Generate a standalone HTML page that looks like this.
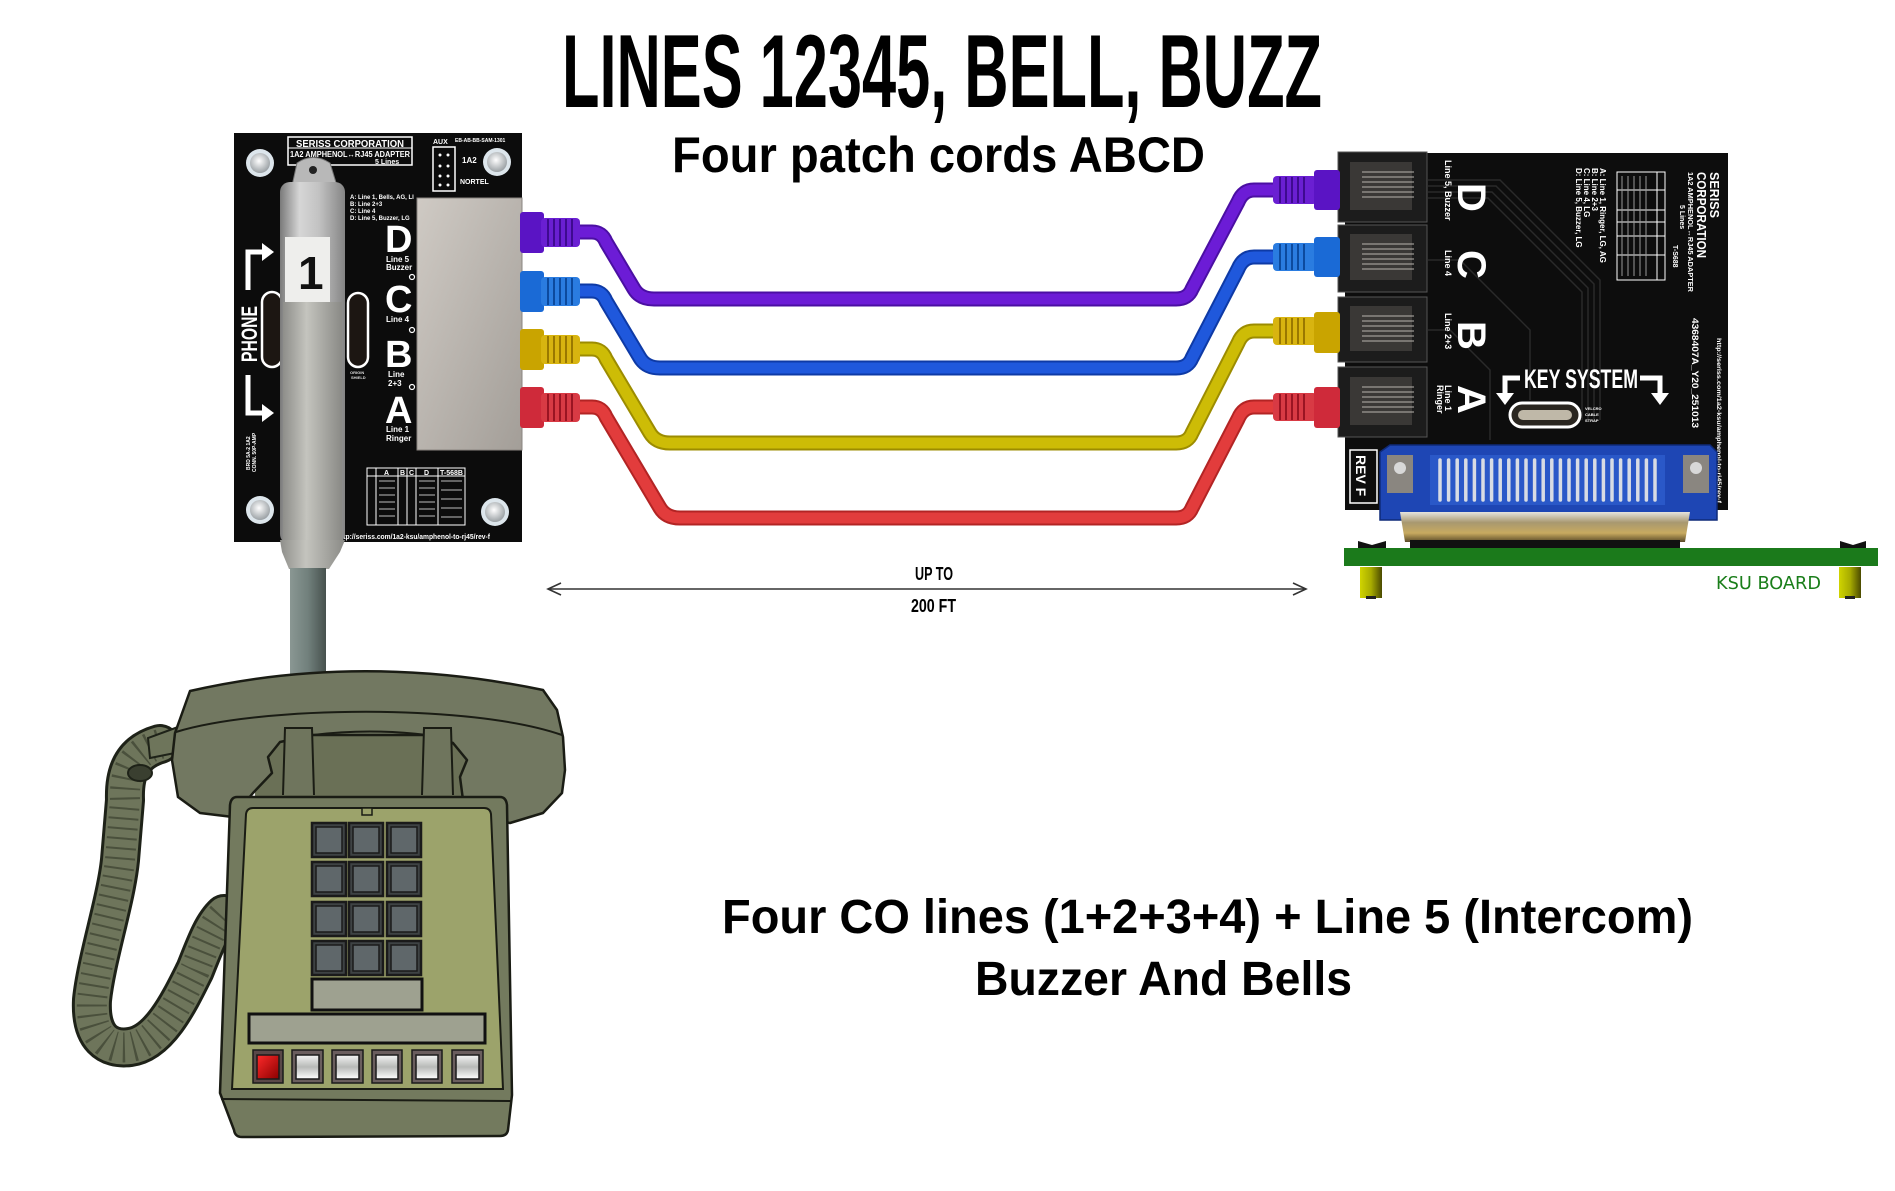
<!DOCTYPE html>
<html><head><meta charset="utf-8">
<style>
html,body{margin:0;padding:0;background:#fff;}
svg{display:block;}
.nb{font-family:"Liberation Sans Narrow","Liberation Sans",sans-serif;font-weight:bold;}
.sb{font-family:"Liberation Sans",sans-serif;font-weight:bold;}
</style></head>
<body>
<svg width="1895" height="1191" viewBox="0 0 1895 1191" xmlns="http://www.w3.org/2000/svg">
<defs>
  <linearGradient id="plug" x1="0" x2="1" y1="0" y2="0">
    <stop offset="0" stop-color="#7a7a7a"/><stop offset="0.3" stop-color="#d6d6d6"/>
    <stop offset="0.6" stop-color="#c2c2c2"/><stop offset="1" stop-color="#858585"/>
  </linearGradient>
  <linearGradient id="plugLow" x1="0" x2="1" y1="0" y2="0">
    <stop offset="0" stop-color="#8e8e8a"/><stop offset="0.4" stop-color="#c4c4be"/>
    <stop offset="1" stop-color="#8a8a86"/>
  </linearGradient>
  <linearGradient id="rj" x1="0" x2="1" y1="0" y2="1">
    <stop offset="0" stop-color="#cfcac4"/><stop offset="1" stop-color="#a39e98"/>
  </linearGradient>
  <linearGradient id="stem" x1="0" x2="1" y1="0" y2="0">
    <stop offset="0" stop-color="#8a9793"/><stop offset="0.5" stop-color="#71807c"/>
    <stop offset="1" stop-color="#47514e"/>
  </linearGradient>
  <linearGradient id="post" x1="0" x2="1" y1="0" y2="0">
    <stop offset="0" stop-color="#d0d400"/><stop offset="0.5" stop-color="#a8ac00"/>
    <stop offset="1" stop-color="#4a4a00"/>
  </linearGradient>
  <linearGradient id="shell" x1="0" x2="0" y1="0" y2="1">
    <stop offset="0" stop-color="#e6e4de"/><stop offset="0.35" stop-color="#a89870"/>
    <stop offset="0.7" stop-color="#c8aa60"/><stop offset="1" stop-color="#5a4a28"/>
  </linearGradient>
  <linearGradient id="btn" x1="0" x2="0" y1="0" y2="1">
    <stop offset="0" stop-color="#f4f4f4"/><stop offset="0.5" stop-color="#b8bab8"/>
    <stop offset="1" stop-color="#ffffff"/>
  </linearGradient>
  <linearGradient id="btnr" x1="0" x2="1" y1="0" y2="1">
    <stop offset="0" stop-color="#ff2a2a"/><stop offset="1" stop-color="#8a0000"/>
  </linearGradient>
  <radialGradient id="hole" cx="0.45" cy="0.4" r="0.6">
    <stop offset="0" stop-color="#ffffff"/><stop offset="1" stop-color="#9aa0a4"/>
  </radialGradient>
</defs>

<rect width="1895" height="1191" fill="#fff"/>

<!-- TITLE -->
<text class="nb" x="562" y="107" font-size="104" textLength="760" lengthAdjust="spacingAndGlyphs" fill="#000">LINES 12345, BELL, BUZZ</text>
<text class="sb" x="672" y="172" font-size="50" textLength="533" lengthAdjust="spacingAndGlyphs" fill="#000">Four patch cords ABCD</text>

<!-- ============ LEFT BOARD ============ -->
<rect x="234" y="133" width="288" height="409" fill="#0c0c0c"/>
<g>
  <circle cx="260" cy="163" r="14" fill="#dde6ec"/><circle cx="260" cy="163" r="10" fill="url(#hole)"/>
  <circle cx="497" cy="162" r="14" fill="#dde6ec"/><circle cx="497" cy="162" r="10" fill="url(#hole)"/>
  <circle cx="260" cy="510" r="14" fill="#dde6ec"/><circle cx="260" cy="510" r="10" fill="url(#hole)"/>
  <circle cx="495" cy="512" r="14" fill="#dde6ec"/><circle cx="495" cy="512" r="10" fill="url(#hole)"/>
</g>
<rect x="288" y="137" width="124" height="28" fill="none" stroke="#fff" stroke-width="1.5"/>
<line x1="288" y1="148" x2="412" y2="148" stroke="#fff" stroke-width="1"/>
<text class="nb" x="296" y="147" font-size="10" textLength="108" lengthAdjust="spacingAndGlyphs" fill="#fff">SERISS CORPORATION</text>
<text class="nb" x="290" y="157" font-size="8" textLength="120" lengthAdjust="spacingAndGlyphs" fill="#fff">1A2 AMPHENOL↔RJ45 ADAPTER</text>
<text class="nb" x="375" y="164" font-size="7" fill="#fff">5 Lines</text>
<rect x="433" y="147" width="22" height="44" fill="none" stroke="#fff" stroke-width="1.5"/>
<g fill="#fff"><circle cx="440" cy="155" r="1.5"/><circle cx="448" cy="155" r="1.5"/><circle cx="440" cy="166" r="1.5"/><circle cx="448" cy="166" r="1.5"/><circle cx="440" cy="176" r="1.5"/><circle cx="448" cy="176" r="1.5"/><circle cx="440" cy="185" r="1.5"/><circle cx="448" cy="185" r="1.5"/></g>
<text class="nb" x="433" y="144" font-size="7" fill="#fff">AUX</text>
<text class="nb" x="462" y="163" font-size="8" fill="#fff">1A2</text>
<text class="nb" x="460" y="184" font-size="7" fill="#fff">NORTEL</text>
<text class="nb" x="455" y="142" font-size="5" fill="#fff">EB-AB-BB-SAM-1301</text>
<g class="nb" font-size="6" fill="#fff">
  <text x="350" y="199">A: Line 1, Bells, AG, LI</text>
  <text x="350" y="206">B: Line 2+3</text>
  <text x="350" y="213">C: Line 4</text>
  <text x="350" y="220">D: Line 5, Buzzer, LG</text>
</g>
<g class="nb" fill="#fff">
  <text x="385" y="252" font-size="38">D</text>
  <text x="386" y="262" font-size="8">Line 5</text>
  <text x="386" y="270" font-size="8">Buzzer</text>
  <text x="385" y="312" font-size="38">C</text>
  <text x="386" y="322" font-size="8">Line 4</text>
  <text x="385" y="367" font-size="38">B</text>
  <text x="388" y="377" font-size="8">Line</text>
  <text x="388" y="386" font-size="8">2+3</text>
  <text x="385" y="423" font-size="38">A</text>
  <text x="386" y="432" font-size="8">Line 1</text>
  <text x="386" y="441" font-size="8">Ringer</text>
</g>
<rect x="262" y="292" width="20" height="75" rx="10" fill="#1c1612" stroke="#fff" stroke-width="2.5"/>
<rect x="348" y="293" width="20" height="74" rx="10" fill="#1c1612" stroke="#fff" stroke-width="2.5"/>
<g class="nb" font-size="4" fill="#ddd"><text x="350" y="374">ORIGIN</text><text x="351" y="379">SHIELD</text></g>
<text class="nb" transform="translate(257,362) rotate(-90)" font-size="22" textLength="56" lengthAdjust="spacingAndGlyphs" fill="#fff">PHONE</text>
<path d="M248,290 L248,252 L263,252" fill="none" stroke="#fff" stroke-width="5"/>
<polygon points="262,243 274,252 262,261" fill="#fff"/>
<path d="M248,375 L248,413 L263,413" fill="none" stroke="#fff" stroke-width="5"/>
<polygon points="262,404 274,413 262,422" fill="#fff"/>
<g class="nb" font-size="5" fill="#fff">
  <text transform="translate(250,470) rotate(-90)">BRD 5A-2 1A2</text>
  <text transform="translate(256,472) rotate(-90)">CONN. 50P-AMP</text>
</g>
<rect x="417" y="198" width="105" height="252" fill="url(#rj)"/>
<rect x="417" y="198" width="105" height="252" fill="none" stroke="#8a8580" stroke-width="1"/>
<g fill="none" stroke="#fff" stroke-width="1.2"><circle cx="412" cy="277" r="2.5"/><circle cx="412" cy="330" r="2.5"/><circle cx="412" cy="387" r="2.5"/></g>
<g stroke="#fff" fill="none" stroke-width="1">
  <rect x="367" y="468" width="98" height="57"/>
  <line x1="367" y1="476" x2="465" y2="476"/>
  <line x1="376" y1="468" x2="376" y2="525"/>
  <line x1="398" y1="468" x2="398" y2="525"/>
  <line x1="407" y1="468" x2="407" y2="525"/>
  <line x1="416" y1="468" x2="416" y2="525"/>
  <line x1="438" y1="468" x2="438" y2="525"/>
</g>
<g class="nb" font-size="7" fill="#fff"><text x="384" y="475">A</text><text x="400" y="475">B</text><text x="409" y="475">C</text><text x="424" y="475">D</text><text x="440" y="475">T-568B</text></g>
<g stroke="#bbb" stroke-width="1">
  <line x1="379" y1="481" x2="395" y2="481"/><line x1="379" y1="488" x2="395" y2="488"/><line x1="379" y1="495" x2="395" y2="495"/><line x1="379" y1="502" x2="395" y2="502"/><line x1="379" y1="509" x2="395" y2="509"/><line x1="379" y1="516" x2="395" y2="516"/>
  <line x1="419" y1="481" x2="435" y2="481"/><line x1="419" y1="488" x2="435" y2="488"/><line x1="419" y1="495" x2="435" y2="495"/><line x1="419" y1="502" x2="435" y2="502"/><line x1="419" y1="509" x2="435" y2="509"/><line x1="419" y1="516" x2="435" y2="516"/>
  <line x1="441" y1="481" x2="462" y2="481"/><line x1="441" y1="490" x2="462" y2="490"/><line x1="441" y1="499" x2="462" y2="499"/><line x1="441" y1="508" x2="462" y2="508"/><line x1="441" y1="517" x2="462" y2="517"/>
</g>
<text class="nb" x="337" y="539" font-size="7" textLength="153" lengthAdjust="spacingAndGlyphs" fill="#fff">http://seriss.com/1a2-ksu/amphenol-to-rj45/rev-f</text>

<!-- plug (silver) -->
<path d="M292,186 L297,163 Q313,152 330,163 L337,186 Z" fill="#b8b8b8" stroke="#777" stroke-width="1"/>
<circle cx="313" cy="170" r="4" fill="#222"/>
<rect x="280" y="182" width="65" height="362" rx="10" fill="url(#plug)"/>
<rect x="283" y="302" width="59" height="240" fill="url(#plugLow)"/>
<rect x="285" y="237" width="45" height="65" fill="#eeeeec"/>
<text class="nb" x="298" y="289" font-size="46" fill="#111">1</text>
<path d="M280,540 L345,540 L340,552 L329,569 L289,569 L282,552 Z" fill="url(#plugLow)"/>
<rect x="290" y="568" width="36" height="108" fill="url(#stem)"/>

<!-- ============ CABLES ============ -->
<g fill="none" stroke-linecap="round" stroke-linejoin="round">
  <path d="M578,232 L592,232 Q602,232 606,242 L634,289 Q640,299 654,299 L1176,299 Q1188,299 1192,289 L1238,202 Q1243,190 1254,190 L1278,190" stroke="#4b0fa3" stroke-width="15"/>
  <path d="M578,232 L592,232 Q602,232 606,242 L634,289 Q640,299 654,299 L1176,299 Q1188,299 1192,289 L1238,202 Q1243,190 1254,190 L1278,190" stroke="#6c1cd6" stroke-width="11"/>

  <path d="M578,291 L592,291 Q602,291 606,301 L640,358 Q646,368 660,368 L1176,368 Q1188,368 1192,358 L1238,269 Q1243,257 1254,257 L1278,257" stroke="#0e3aa6" stroke-width="15"/>
  <path d="M578,291 L592,291 Q602,291 606,301 L640,358 Q646,368 660,368 L1176,368 Q1188,368 1192,358 L1238,269 Q1243,257 1254,257 L1278,257" stroke="#1f58dc" stroke-width="11"/>

  <path d="M578,349 L592,349 Q602,349 606,359 L650,433 Q656,443 670,443 L1176,443 Q1188,443 1192,433 L1238,343 Q1243,331 1254,331 L1278,331" stroke="#9c8c00" stroke-width="15"/>
  <path d="M578,349 L592,349 Q602,349 606,359 L650,433 Q656,443 670,443 L1176,443 Q1188,443 1192,433 L1238,343 Q1243,331 1254,331 L1278,331" stroke="#cdbc06" stroke-width="11"/>

  <path d="M578,407 L592,407 Q602,407 606,417 L660,508 Q666,518 680,518 L1176,518 Q1188,518 1192,508 L1238,419 Q1243,407 1254,407 L1278,407" stroke="#b32424" stroke-width="15"/>
  <path d="M578,407 L592,407 Q602,407 606,417 L660,508 Q666,518 680,518 L1176,518 Q1188,518 1192,508 L1238,419 Q1243,407 1254,407 L1278,407" stroke="#e23c3c" stroke-width="11"/>
</g>

<!-- left connectors -->
<g>
  <rect x="520" y="212" width="24" height="41" rx="3" fill="#5a14c4"/>
  <rect x="541" y="218" width="39" height="29" rx="4" fill="#6a1fd2"/>
  <g stroke="#3e0a90" stroke-width="2"><line x1="548" y1="219" x2="548" y2="246"/><line x1="554" y1="219" x2="554" y2="246"/><line x1="560" y1="219" x2="560" y2="246"/><line x1="566" y1="219" x2="566" y2="246"/><line x1="572" y1="219" x2="572" y2="246"/></g>

  <rect x="520" y="271" width="24" height="41" rx="3" fill="#1a6ad6"/>
  <rect x="541" y="277" width="39" height="29" rx="4" fill="#2a7ce0"/>
  <g stroke="#0c4a9e" stroke-width="2"><line x1="548" y1="278" x2="548" y2="305"/><line x1="554" y1="278" x2="554" y2="305"/><line x1="560" y1="278" x2="560" y2="305"/><line x1="566" y1="278" x2="566" y2="305"/><line x1="572" y1="278" x2="572" y2="305"/></g>

  <rect x="520" y="329" width="24" height="41" rx="3" fill="#c9a400"/>
  <rect x="541" y="335" width="39" height="29" rx="4" fill="#d8b410"/>
  <g stroke="#9a7800" stroke-width="2"><line x1="548" y1="336" x2="548" y2="363"/><line x1="554" y1="336" x2="554" y2="363"/><line x1="560" y1="336" x2="560" y2="363"/><line x1="566" y1="336" x2="566" y2="363"/><line x1="572" y1="336" x2="572" y2="363"/></g>

  <rect x="520" y="387" width="24" height="41" rx="3" fill="#cf2a3a"/>
  <rect x="541" y="393" width="39" height="29" rx="4" fill="#d83a44"/>
  <g stroke="#9a1422" stroke-width="2"><line x1="548" y1="394" x2="548" y2="421"/><line x1="554" y1="394" x2="554" y2="421"/><line x1="560" y1="394" x2="560" y2="421"/><line x1="566" y1="394" x2="566" y2="421"/><line x1="572" y1="394" x2="572" y2="421"/></g>
</g>

<!-- ============ RIGHT BOARD ============ -->
<rect x="1345" y="153" width="383" height="357" fill="#0d0d0d"/>
<g stroke="#2a2a2a" stroke-width="1.5" fill="none">
  <path d="M1428,180 L1500,180 L1600,280 L1600,420"/>
  <path d="M1428,186 L1496,186 L1594,284 L1594,420"/>
  <path d="M1428,192 L1492,192 L1588,288 L1588,420"/>
  <path d="M1428,198 L1488,198 L1582,292 L1582,420"/>
  <path d="M1428,260 L1460,260 L1530,330 L1530,400"/>
  <path d="M1428,330 L1450,330 L1490,370 L1490,440"/>
</g>
<g>
  <rect x="1338" y="152" width="89" height="70" fill="#1c1c1c" stroke="#555" stroke-width="1"/>
  <rect x="1350" y="162" width="62" height="48" fill="#3a3836"/>
  <g stroke="#b8b4ae" stroke-width="1"><line x1="1362" y1="172" x2="1414" y2="172"/><line x1="1362" y1="177" x2="1414" y2="177"/><line x1="1362" y1="182" x2="1414" y2="182"/><line x1="1362" y1="187" x2="1414" y2="187"/><line x1="1362" y1="192" x2="1414" y2="192"/><line x1="1362" y1="197" x2="1414" y2="197"/></g>

  <rect x="1338" y="225" width="89" height="67" fill="#1c1c1c" stroke="#555" stroke-width="1"/>
  <rect x="1350" y="234" width="62" height="46" fill="#3a3836"/>
  <g stroke="#b8b4ae" stroke-width="1"><line x1="1362" y1="244" x2="1414" y2="244"/><line x1="1362" y1="249" x2="1414" y2="249"/><line x1="1362" y1="254" x2="1414" y2="254"/><line x1="1362" y1="259" x2="1414" y2="259"/><line x1="1362" y1="264" x2="1414" y2="264"/><line x1="1362" y1="269" x2="1414" y2="269"/></g>

  <rect x="1338" y="297" width="89" height="65" fill="#1c1c1c" stroke="#555" stroke-width="1"/>
  <rect x="1350" y="306" width="62" height="45" fill="#3a3836"/>
  <g stroke="#b8b4ae" stroke-width="1"><line x1="1362" y1="316" x2="1414" y2="316"/><line x1="1362" y1="321" x2="1414" y2="321"/><line x1="1362" y1="326" x2="1414" y2="326"/><line x1="1362" y1="331" x2="1414" y2="331"/><line x1="1362" y1="336" x2="1414" y2="336"/><line x1="1362" y1="341" x2="1414" y2="341"/></g>

  <rect x="1338" y="367" width="89" height="70" fill="#1c1c1c" stroke="#555" stroke-width="1"/>
  <rect x="1350" y="377" width="62" height="48" fill="#3a3836"/>
  <g stroke="#b8b4ae" stroke-width="1"><line x1="1362" y1="387" x2="1414" y2="387"/><line x1="1362" y1="392" x2="1414" y2="392"/><line x1="1362" y1="397" x2="1414" y2="397"/><line x1="1362" y1="402" x2="1414" y2="402"/><line x1="1362" y1="407" x2="1414" y2="407"/><line x1="1362" y1="412" x2="1414" y2="412"/></g>
</g>
<g>
  <rect x="1273" y="176" width="44" height="28" rx="4" fill="#6a1fd2"/>
  <g stroke="#3e0a90" stroke-width="2"><line x1="1280" y1="177" x2="1280" y2="203"/><line x1="1286" y1="177" x2="1286" y2="203"/><line x1="1292" y1="177" x2="1292" y2="203"/><line x1="1298" y1="177" x2="1298" y2="203"/><line x1="1304" y1="177" x2="1304" y2="203"/></g>
  <rect x="1314" y="170" width="26" height="40" rx="3" fill="#5a14c4"/>

  <rect x="1273" y="243" width="44" height="28" rx="4" fill="#2a7ce0"/>
  <g stroke="#0c4a9e" stroke-width="2"><line x1="1280" y1="244" x2="1280" y2="270"/><line x1="1286" y1="244" x2="1286" y2="270"/><line x1="1292" y1="244" x2="1292" y2="270"/><line x1="1298" y1="244" x2="1298" y2="270"/><line x1="1304" y1="244" x2="1304" y2="270"/></g>
  <rect x="1314" y="237" width="26" height="40" rx="3" fill="#1a6ad6"/>

  <rect x="1273" y="317" width="44" height="28" rx="4" fill="#d8b410"/>
  <g stroke="#9a7800" stroke-width="2"><line x1="1280" y1="318" x2="1280" y2="344"/><line x1="1286" y1="318" x2="1286" y2="344"/><line x1="1292" y1="318" x2="1292" y2="344"/><line x1="1298" y1="318" x2="1298" y2="344"/><line x1="1304" y1="318" x2="1304" y2="344"/></g>
  <rect x="1314" y="312" width="26" height="41" rx="3" fill="#c9a400"/>

  <rect x="1273" y="393" width="44" height="28" rx="4" fill="#d83a44"/>
  <g stroke="#9a1422" stroke-width="2"><line x1="1280" y1="394" x2="1280" y2="420"/><line x1="1286" y1="394" x2="1286" y2="420"/><line x1="1292" y1="394" x2="1292" y2="420"/><line x1="1298" y1="394" x2="1298" y2="420"/><line x1="1304" y1="394" x2="1304" y2="420"/></g>
  <rect x="1314" y="387" width="26" height="41" rx="3" fill="#cf2a3a"/>
</g>
<g class="nb" fill="#fff">
  <text transform="translate(1458,183) rotate(90)" font-size="40">D</text>
  <text transform="translate(1458,250) rotate(90)" font-size="40">C</text>
  <text transform="translate(1458,321) rotate(90)" font-size="40">B</text>
  <text transform="translate(1458,385) rotate(90)" font-size="40">A</text>
  <text transform="translate(1445,160) rotate(90)" font-size="9">Line 5, Buzzer</text>
  <text transform="translate(1445,250) rotate(90)" font-size="9">Line 4</text>
  <text transform="translate(1445,313) rotate(90)" font-size="9">Line 2+3</text>
  <text transform="translate(1445,385) rotate(90)" font-size="9">Line 1</text>
  <text transform="translate(1437,385) rotate(90)" font-size="9">Ringer</text>
  <text transform="translate(1600,168) rotate(90)" font-size="8">A: Line 1, Ringer, LG, AG</text>
  <text transform="translate(1592,168) rotate(90)" font-size="8">B: Line 2+3</text>
  <text transform="translate(1584,168) rotate(90)" font-size="8">C: Line 4, LG</text>
  <text transform="translate(1576,168) rotate(90)" font-size="8">D: Line 5, Buzzer, LG</text>
  <text transform="translate(1710,172) rotate(90)" font-size="13" textLength="46" lengthAdjust="spacingAndGlyphs">SERISS</text>
  <text transform="translate(1697,172) rotate(90)" font-size="13" textLength="86" lengthAdjust="spacingAndGlyphs">CORPORATION</text>
  <text transform="translate(1688,172) rotate(90)" font-size="7" textLength="120" lengthAdjust="spacingAndGlyphs">1A2 AMPHENOL↔RJ45 ADAPTER</text>
  <text transform="translate(1680,205) rotate(90)" font-size="7">5 Lines</text>
  <text transform="translate(1673,245) rotate(90)" font-size="7">T-S688</text>
  <text transform="translate(1692,318) rotate(90)" font-size="9" textLength="110" lengthAdjust="spacingAndGlyphs">4368407A_Y20_251013</text>
  <text transform="translate(1717,338) rotate(90)" font-size="6" textLength="165" lengthAdjust="spacingAndGlyphs">http://seriss.com/1a2-ksu/amphenol-to-rj45/rev-f</text>
  <text x="1524" y="388" font-size="27" textLength="114" lengthAdjust="spacingAndGlyphs">KEY SYSTEM</text>
</g>
<g stroke="#fff" fill="none" stroke-width="1">
  <rect x="1617" y="172" width="48" height="108"/>
  <line x1="1657" y1="172" x2="1657" y2="280"/>
  <line x1="1617" y1="190" x2="1665" y2="190"/><line x1="1617" y1="210" x2="1665" y2="210"/>
  <line x1="1617" y1="222" x2="1665" y2="222"/><line x1="1617" y1="236" x2="1665" y2="236"/>
  <line x1="1617" y1="255" x2="1665" y2="255"/>
</g>
<g stroke="#999" stroke-width="1">
  <line x1="1622" y1="176" x2="1622" y2="276"/><line x1="1628" y1="176" x2="1628" y2="276"/><line x1="1634" y1="176" x2="1634" y2="276"/><line x1="1640" y1="176" x2="1640" y2="276"/><line x1="1646" y1="176" x2="1646" y2="276"/>
</g>
<path d="M1520,378 L1505,378 L1505,396" fill="none" stroke="#fff" stroke-width="5"/>
<polygon points="1496,393 1514,393 1505,405" fill="#fff"/>
<path d="M1640,378 L1660,378 L1660,396" fill="none" stroke="#fff" stroke-width="5"/>
<polygon points="1651,393 1669,393 1660,405" fill="#fff"/>
<rect x="1510" y="403" width="70" height="24" rx="12" fill="#2a2620" stroke="#fff" stroke-width="3"/>
<rect x="1518" y="410" width="54" height="10" rx="5" fill="#bfb8a8"/>
<g class="nb" font-size="4" fill="#fff"><text x="1585" y="410">VELCRO</text><text x="1585" y="416">CABLE</text><text x="1585" y="422">STRAP</text></g>
<rect x="1350" y="450" width="27" height="53" fill="none" stroke="#fff" stroke-width="1.5"/>
<text class="nb" transform="translate(1356,455) rotate(90)" font-size="14" fill="#fff">REV F</text>
<path d="M1380,452 L1390,445 L1710,445 L1717,452 L1717,520 L1380,520 Z" fill="#1e46b4" stroke="#0f2a78" stroke-width="1.5"/>
<rect x="1430" y="455" width="235" height="50" fill="#2a58c8"/>
<g stroke="#d8dce4" stroke-width="3.5" stroke-linecap="round">
  <line x1="1440" y1="460" x2="1440" y2="500"/><line x1="1448.6" y1="460" x2="1448.6" y2="500"/><line x1="1457.2" y1="460" x2="1457.2" y2="500"/><line x1="1465.8" y1="460" x2="1465.8" y2="500"/><line x1="1474.4" y1="460" x2="1474.4" y2="500"/><line x1="1483" y1="460" x2="1483" y2="500"/><line x1="1491.6" y1="460" x2="1491.6" y2="500"/><line x1="1500.2" y1="460" x2="1500.2" y2="500"/><line x1="1508.8" y1="460" x2="1508.8" y2="500"/><line x1="1517.4" y1="460" x2="1517.4" y2="500"/><line x1="1526" y1="460" x2="1526" y2="500"/><line x1="1534.6" y1="460" x2="1534.6" y2="500"/><line x1="1543.2" y1="460" x2="1543.2" y2="500"/><line x1="1551.8" y1="460" x2="1551.8" y2="500"/><line x1="1560.4" y1="460" x2="1560.4" y2="500"/><line x1="1569" y1="460" x2="1569" y2="500"/><line x1="1577.6" y1="460" x2="1577.6" y2="500"/><line x1="1586.2" y1="460" x2="1586.2" y2="500"/><line x1="1594.8" y1="460" x2="1594.8" y2="500"/><line x1="1603.4" y1="460" x2="1603.4" y2="500"/><line x1="1612" y1="460" x2="1612" y2="500"/><line x1="1620.6" y1="460" x2="1620.6" y2="500"/><line x1="1629.2" y1="460" x2="1629.2" y2="500"/><line x1="1637.8" y1="460" x2="1637.8" y2="500"/><line x1="1646.4" y1="460" x2="1646.4" y2="500"/><line x1="1655" y1="460" x2="1655" y2="500"/>
</g>
<rect x="1387" y="455" width="26" height="38" fill="#8a8680"/>
<circle cx="1400" cy="468" r="6" fill="#d8d8d8"/>
<rect x="1683" y="455" width="26" height="38" fill="#8a8680"/>
<circle cx="1696" cy="468" r="6" fill="#d8d8d8"/>
<path d="M1400,512 L1690,512 L1685,542 L1405,542 Z" fill="url(#shell)"/>
<rect x="1410" y="540" width="270" height="8" fill="#111"/>
<path d="M1358,541 L1372,545 L1386,541 L1386,548 L1358,548 Z" fill="#111"/>
<path d="M1840,541 L1853,545 L1866,541 L1866,548 L1840,548 Z" fill="#111"/>
<rect x="1344" y="548" width="534" height="18" fill="#1b7a1b"/>
<rect x="1360" y="567" width="22" height="31" fill="url(#post)"/>
<rect x="1839" y="567" width="22" height="31" fill="url(#post)"/>
<rect x="1366" y="596" width="10" height="3" fill="#222"/>
<rect x="1845" y="596" width="10" height="3" fill="#222"/>
<text x="1716" y="589" font-family="DejaVu Sans, sans-serif" font-size="18" textLength="105" lengthAdjust="spacingAndGlyphs" fill="#1a7e1a">KSU BOARD</text>

<!-- ============ DISTANCE ARROW ============ -->
<line x1="548" y1="589" x2="1306" y2="589" stroke="#333" stroke-width="1.6"/>
<path d="M561,583 L548,589 L561,595" fill="none" stroke="#333" stroke-width="1.6"/>
<path d="M1293,583 L1306,589 L1293,595" fill="none" stroke="#333" stroke-width="1.6"/>
<text class="nb" x="915" y="580" font-size="18" textLength="38" lengthAdjust="spacingAndGlyphs" fill="#000">UP TO</text>
<text class="nb" x="911" y="612" font-size="18" textLength="45" lengthAdjust="spacingAndGlyphs" fill="#000">200 FT</text>

<!-- ============ PHONE ============ -->
<g fill="none" stroke-linecap="round" stroke-linejoin="round">
  <path d="M160,744 C132,752 124,772 125,800 L120,860 C116,900 96,960 92,1000 C90,1038 108,1050 130,1047 C160,1043 180,1000 195,970 C205,945 212,925 224,914" stroke="#1e2218" stroke-width="40"/>
  <path d="M160,744 C132,752 124,772 125,800 L120,860 C116,900 96,960 92,1000 C90,1038 108,1050 130,1047 C160,1043 180,1000 195,970 C205,945 212,925 224,914" stroke="#6e755b" stroke-width="34"/>
  <path d="M160,744 C132,752 124,772 125,800 L120,860 C116,900 96,960 92,1000 C90,1038 108,1050 130,1047 C160,1043 180,1000 195,970 C205,945 212,925 224,914" stroke="#4a503c" stroke-width="30" stroke-dasharray="2 8" stroke-linecap="butt"/>
</g>
<ellipse cx="140" cy="773" rx="12" ry="8" fill="#3a3f30" stroke="#1e2218" stroke-width="2"/>
<path d="M178,727 L148,738 L150,758 L180,752 Z" fill="#6e755b" stroke="#1e2218" stroke-width="2"/>
<rect x="255" y="733" width="215" height="70" fill="#6a7056"/>
<path d="M190,691 Q360,652 543,690 L557,710 L563,737 L565,770 L562,793 L543,813 L510,823 L477,817 L463,800 L460,777 L467,760 L453,743 L427,735 L313,735 L280,742 L268,757 L272,773 L253,793 L233,817 L200,813 L178,797 L172,760 L175,733 Z" fill="#727861" stroke="#1a1c14" stroke-width="2.5" stroke-linejoin="round"/>
<path d="M176,732 C260,706 470,703 562,735" fill="none" stroke="#1a1c14" stroke-width="2"/>
<path d="M313,735 Q370,728 427,735" fill="none" stroke="#1a1c14" stroke-width="2"/>
<path d="M283,795 L285,728 L312,728 L314,795" fill="#6f755d" stroke="#1a1c14" stroke-width="2"/>
<path d="M422,795 L424,728 L451,728 L453,795" fill="#6f755d" stroke="#1a1c14" stroke-width="2"/>
<path d="M237,797 L500,797 Q506,797 507,805 L512,1095 L508,1130 Q507,1136 500,1136 L242,1137 Q235,1137 234,1130 L220,1093 L230,805 Q231,797 237,797 Z" fill="#737a5e" stroke="#1a1c14" stroke-width="2.5"/>
<line x1="221" y1="1099" x2="511" y2="1101" stroke="#1a1c14" stroke-width="2"/>
<path d="M253,808 L484,808 Q490,808 491,814 L503,1089 L232,1089 L246,814 Q247,808 253,808 Z" fill="#9ca36b" stroke="#1a1c14" stroke-width="2"/>
<rect x="362" y="808" width="10" height="7" fill="#9ca36b" stroke="#1a1c14" stroke-width="1.5"/>
<g stroke="#1a1a1a">
  <rect x="312" y="823" width="34" height="34" fill="#3e4344" stroke-width="2.5"/><rect x="316" y="827" width="26" height="26" fill="#5f676a" stroke-width="1.5"/>
  <rect x="349" y="823" width="34" height="34" fill="#3e4344" stroke-width="2.5"/><rect x="353" y="827" width="26" height="26" fill="#5f676a" stroke-width="1.5"/>
  <rect x="387" y="823" width="34" height="34" fill="#3e4344" stroke-width="2.5"/><rect x="391" y="827" width="26" height="26" fill="#5f676a" stroke-width="1.5"/>
  <rect x="312" y="862" width="34" height="34" fill="#3e4344" stroke-width="2.5"/><rect x="316" y="866" width="26" height="26" fill="#5f676a" stroke-width="1.5"/>
  <rect x="349" y="862" width="34" height="34" fill="#3e4344" stroke-width="2.5"/><rect x="353" y="866" width="26" height="26" fill="#5f676a" stroke-width="1.5"/>
  <rect x="387" y="862" width="34" height="34" fill="#3e4344" stroke-width="2.5"/><rect x="391" y="866" width="26" height="26" fill="#5f676a" stroke-width="1.5"/>
  <rect x="312" y="902" width="34" height="34" fill="#3e4344" stroke-width="2.5"/><rect x="316" y="906" width="26" height="26" fill="#5f676a" stroke-width="1.5"/>
  <rect x="349" y="902" width="34" height="34" fill="#3e4344" stroke-width="2.5"/><rect x="353" y="906" width="26" height="26" fill="#5f676a" stroke-width="1.5"/>
  <rect x="387" y="902" width="34" height="34" fill="#3e4344" stroke-width="2.5"/><rect x="391" y="906" width="26" height="26" fill="#5f676a" stroke-width="1.5"/>
  <rect x="312" y="941" width="34" height="34" fill="#3e4344" stroke-width="2.5"/><rect x="316" y="945" width="26" height="26" fill="#5f676a" stroke-width="1.5"/>
  <rect x="349" y="941" width="34" height="34" fill="#3e4344" stroke-width="2.5"/><rect x="353" y="945" width="26" height="26" fill="#5f676a" stroke-width="1.5"/>
  <rect x="387" y="941" width="34" height="34" fill="#3e4344" stroke-width="2.5"/><rect x="391" y="945" width="26" height="26" fill="#5f676a" stroke-width="1.5"/>
</g>
<rect x="312" y="979" width="110" height="31" fill="#9ea190" stroke="#111" stroke-width="3"/>
<rect x="249" y="1014" width="236" height="29" fill="#9ea190" stroke="#111" stroke-width="3"/>
<g stroke="#1a1a1a" stroke-width="1.5">
  <rect x="253" y="1050" width="30" height="33" fill="#5a4848"/><rect x="257" y="1055" width="22" height="24" fill="url(#btnr)"/>
  <rect x="292" y="1050" width="31" height="33" fill="#6a5e5e"/><rect x="296" y="1055" width="23" height="24" fill="url(#btn)"/>
  <rect x="332" y="1050" width="31" height="33" fill="#6a5e5e"/><rect x="336" y="1055" width="23" height="24" fill="url(#btn)"/>
  <rect x="372" y="1050" width="30" height="33" fill="#6a5e5e"/><rect x="376" y="1055" width="22" height="24" fill="url(#btn)"/>
  <rect x="412" y="1050" width="30" height="33" fill="#6a5e5e"/><rect x="416" y="1055" width="22" height="24" fill="url(#btn)"/>
  <rect x="452" y="1050" width="31" height="33" fill="#6a5e5e"/><rect x="456" y="1055" width="23" height="24" fill="url(#btn)"/>
</g>

<!-- ============ BOTTOM TEXT ============ -->
<text class="sb" x="722" y="933" font-size="48" textLength="971" lengthAdjust="spacingAndGlyphs" fill="#000">Four CO lines (1+2+3+4) + Line 5 (Intercom)</text>
<text class="sb" x="975" y="995" font-size="48" textLength="377" lengthAdjust="spacingAndGlyphs" fill="#000">Buzzer And Bells</text>
</svg>
</body></html>
